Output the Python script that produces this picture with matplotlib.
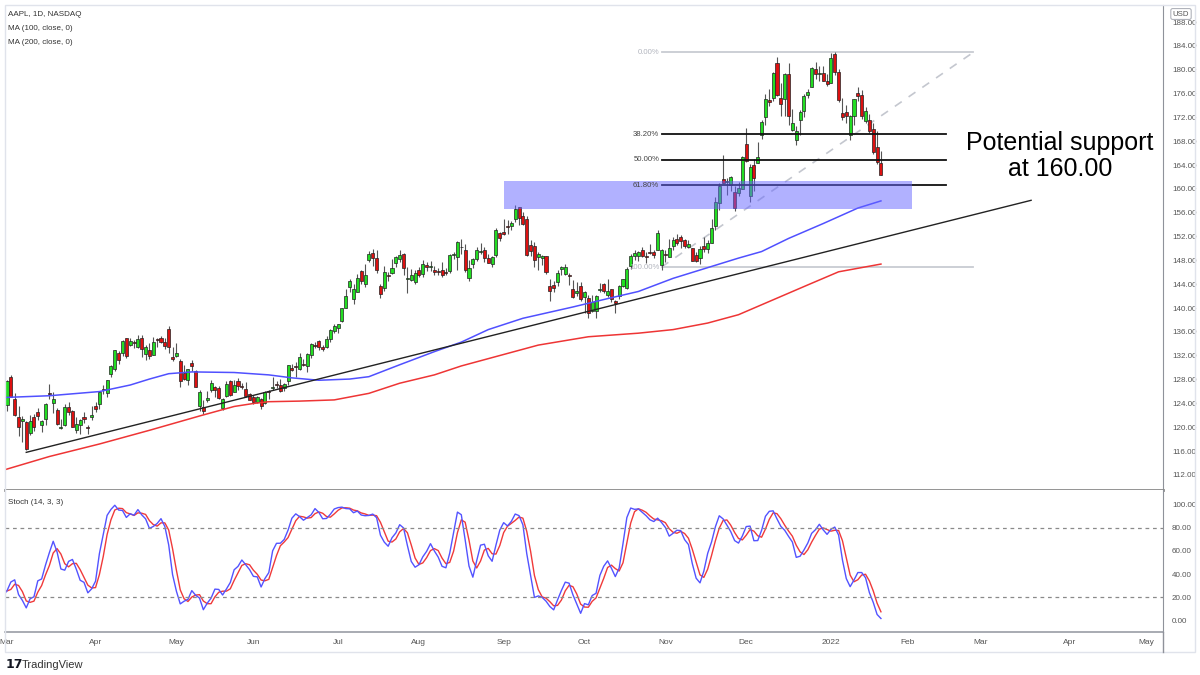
import numpy as np
import pandas as pd
import matplotlib
matplotlib.use("Agg")
import matplotlib.pyplot as plt
from matplotlib.lines import Line2D
from matplotlib.patches import Rectangle

# AAPL daily bars, 1 Feb 2021 .. 21 Jan 2022 (February only feeds the stochastic)
opens = [
    133.75, 135.73, 135.76, 136.30, 137.35, 136.03, 136.62, 136.48, 135.90, 134.35, 135.49, 131.25, 129.20, 130.24, 128.01, 123.76, 124.94, 124.68, 122.59,
    123.75, 128.41, 124.81, 121.75, 120.98, 120.93, 119.03, 121.69, 122.54, 120.40, 121.41, 125.70, 124.05, 122.88, 119.90, 120.33, 123.33, 122.82, 119.54, 120.35, 121.65, 120.11, 121.65,
    123.66, 123.87, 126.50, 125.83, 128.95, 129.80, 132.52, 132.44, 134.94, 133.82, 134.30, 133.51, 135.02, 132.36, 133.04, 132.16, 134.83, 135.01, 134.31, 136.47, 131.78,
    132.04, 131.19, 129.20, 127.89, 130.85, 129.41, 123.50, 123.40, 124.58, 126.25, 126.82, 126.56, 123.16, 125.23, 127.82, 126.01, 127.82, 126.96, 126.44, 125.57,
    125.08, 124.28, 124.68, 124.07, 126.17, 126.60, 127.21, 127.02, 126.53, 127.82, 129.94, 130.37, 129.80, 130.71, 130.30, 132.13, 133.77, 134.45, 133.46, 133.41, 134.80, 136.17,
    136.60, 137.90, 140.07, 143.54, 141.58, 142.75, 146.21, 144.03, 148.10, 149.24, 148.46, 143.75, 143.46, 145.53, 145.94, 147.55, 148.27, 149.12, 144.81, 144.69, 144.38,
    146.36, 145.81, 147.27, 146.98, 146.35, 146.20, 146.44, 146.05, 146.19, 148.97, 148.54, 150.23, 149.80, 145.03, 147.44, 148.31, 149.45, 149.81, 148.35, 147.48, 149.00, 152.66,
    152.83, 153.87, 153.76, 154.97, 156.98, 155.49, 155.00, 150.63, 150.35, 148.56, 148.44, 148.82, 143.80, 143.93, 144.45, 146.65, 145.66, 145.47, 143.25, 142.47, 143.66,
    141.90, 141.76, 139.49, 139.47, 143.06, 144.03, 142.27, 143.23, 141.24, 142.11, 143.77, 143.45, 147.01, 148.70, 148.81, 149.69, 148.68, 149.33, 149.36, 149.82, 147.22,
    148.99, 148.66, 150.39, 151.58, 151.89, 151.41, 150.20, 150.02, 148.96, 148.43, 150.37, 149.94, 151.00, 153.71, 157.65, 161.68, 161.12, 160.75, 159.57, 159.37, 159.99,
    167.48, 158.74, 164.02, 164.29, 169.08, 172.13, 174.91, 175.21, 181.12, 175.25, 175.11, 179.28, 169.93, 168.28, 171.56, 173.04, 175.85, 177.09, 180.16, 179.33, 179.47, 178.09,
    177.83, 182.63, 179.61, 172.70, 172.89, 169.08, 172.32, 176.12, 175.78, 171.34, 171.51, 170.00, 166.98, 164.42,
]
highs = [
    135.38, 136.31, 135.77, 137.40, 137.42, 136.96, 137.88, 136.99, 136.39, 135.53, 136.01, 132.22, 130.00, 130.71, 129.72, 126.71, 125.56, 126.46, 124.85,
    127.93, 128.72, 125.71, 123.60, 121.94, 121.00, 122.06, 122.17, 123.21, 121.17, 124.00, 127.22, 125.86, 123.18, 121.43, 123.87, 124.24, 122.90, 121.66, 121.48, 122.58, 120.40, 123.52,
    124.18, 126.16, 127.13, 127.92, 130.39, 133.04, 132.85, 134.66, 135.00, 135.00, 134.67, 135.47, 135.53, 133.75, 134.15, 135.12, 135.06, 135.41, 135.02, 137.07, 133.56,
    134.07, 131.49, 130.45, 129.75, 131.26, 129.54, 126.27, 124.64, 126.15, 127.89, 126.93, 126.99, 124.92, 127.72, 128.00, 127.94, 128.32, 127.39, 127.64, 125.80,
    125.35, 125.24, 124.85, 126.16, 126.32, 128.46, 127.75, 128.19, 127.44, 130.54, 130.60, 130.89, 132.55, 131.51, 132.41, 134.08, 134.32, 134.64, 133.89, 135.25, 136.49, 137.41,
    137.33, 140.00, 143.15, 144.89, 144.06, 145.65, 146.32, 147.46, 149.57, 150.00, 149.76, 144.07, 147.10, 146.13, 148.20, 148.72, 149.83, 149.21, 146.97, 146.55, 146.33,
    146.95, 148.04, 147.79, 147.84, 147.11, 146.70, 147.71, 146.72, 149.05, 149.44, 151.19, 151.68, 150.72, 148.00, 148.50, 150.19, 150.86, 150.32, 149.12, 148.75, 153.49, 152.80,
    154.98, 154.72, 154.63, 157.26, 157.04, 156.11, 155.48, 151.42, 151.07, 149.44, 148.97, 148.82, 144.84, 144.60, 146.43, 147.08, 147.47, 145.96, 144.75, 144.45, 144.38,
    142.92, 142.21, 142.24, 142.15, 144.22, 144.18, 144.81, 143.25, 141.40, 143.88, 144.90, 146.84, 149.17, 149.75, 149.64, 150.18, 149.37, 150.84, 149.73, 153.17, 149.94,
    149.70, 151.57, 151.97, 152.43, 152.20, 151.57, 151.43, 150.13, 149.43, 150.40, 151.88, 151.49, 155.00, 158.67, 161.02, 165.70, 161.80, 162.14, 160.45, 161.19, 165.52,
    170.30, 164.20, 164.96, 167.88, 171.58, 175.96, 176.75, 179.63, 182.13, 177.74, 179.50, 181.14, 173.47, 170.58, 173.20, 175.86, 176.85, 180.42, 181.33, 180.63, 180.57, 179.23,
    182.88, 182.94, 180.17, 175.30, 174.14, 172.50, 175.18, 177.18, 176.62, 173.78, 172.54, 171.08, 169.68, 166.33,
]
lows = [
    130.93, 134.61, 133.61, 134.59, 135.86, 134.92, 135.85, 134.40, 133.77, 133.69, 132.79, 129.47, 127.41, 128.80, 125.60, 118.39, 122.23, 120.54, 121.20,
    122.79, 125.01, 121.84, 118.62, 117.57, 116.21, 118.79, 119.45, 121.26, 119.16, 120.42, 124.72, 122.34, 120.32, 119.68, 120.26, 122.14, 120.07, 119.00, 118.92, 120.73, 118.86, 121.15,
    122.49, 123.07, 125.65, 125.14, 128.52, 129.47, 130.63, 131.93, 131.66, 133.64, 133.28, 133.34, 131.81, 131.30, 131.41, 132.16, 133.56, 134.11, 133.08, 132.45, 131.07,
    131.83, 126.70, 127.97, 127.13, 129.48, 126.81, 122.77, 122.25, 124.26, 125.85, 125.17, 124.78, 122.86, 125.10, 125.21, 125.94, 126.32, 126.42, 125.08, 124.55,
    123.94, 124.05, 123.13, 123.85, 124.83, 126.21, 126.52, 125.94, 126.10, 127.07, 129.39, 128.46, 129.65, 130.24, 129.21, 131.62, 133.23, 132.93, 132.81, 133.35, 134.35, 135.87,
    135.76, 137.75, 140.07, 142.66, 140.67, 142.65, 144.00, 143.63, 147.68, 147.09, 145.88, 141.67, 142.96, 144.63, 145.81, 146.92, 147.70, 145.55, 142.54, 144.58, 144.11,
    145.25, 145.18, 146.28, 146.17, 145.63, 145.52, 145.30, 145.53, 145.84, 148.27, 146.47, 149.09, 146.15, 144.50, 146.78, 147.89, 149.15, 147.80, 147.51, 146.83, 148.61, 151.29,
    152.34, 152.40, 153.09, 154.39, 153.98, 153.95, 148.70, 148.75, 146.91, 146.37, 147.22, 145.76, 141.27, 142.78, 143.70, 145.64, 145.56, 143.82, 141.69, 142.03, 141.28,
    139.11, 138.27, 139.36, 138.37, 142.72, 142.56, 141.81, 141.04, 139.20, 141.51, 143.51, 143.16, 146.55, 148.12, 147.87, 148.64, 147.62, 149.01, 148.49, 149.72, 146.41,
    147.80, 148.65, 149.82, 150.64, 150.06, 150.16, 150.06, 147.85, 147.68, 147.48, 149.43, 149.34, 150.99, 153.05, 156.53, 161.00, 159.06, 159.64, 156.36, 158.79, 159.92,
    164.53, 157.80, 159.72, 164.28, 168.34, 170.70, 173.92, 174.69, 175.53, 172.21, 172.31, 170.75, 169.69, 167.46, 169.12, 172.15, 175.27, 177.07, 178.53, 178.14, 178.09, 177.26,
    177.71, 179.12, 174.64, 171.64, 171.03, 168.17, 170.82, 174.82, 171.79, 171.09, 169.41, 165.94, 164.18, 162.30,
]
closes = [
    134.14, 134.99, 133.94, 137.39, 136.76, 136.91, 136.01, 135.39, 135.13, 135.37, 133.19, 130.84, 129.71, 129.87, 126.00, 125.86, 125.35, 120.99, 121.26,
    127.79, 125.12, 122.06, 120.13, 121.42, 116.36, 121.09, 119.98, 121.96, 121.03, 123.99, 125.57, 124.76, 120.53, 119.99, 123.39, 122.54, 120.09, 120.59, 121.21, 121.39, 119.90, 122.15,
    123.00, 125.90, 126.21, 127.90, 130.36, 133.00, 131.24, 134.43, 132.03, 134.50, 134.16, 134.84, 133.11, 133.50, 131.94, 134.32, 134.72, 134.39, 133.58, 133.48, 131.46,
    132.54, 127.85, 128.10, 129.74, 130.21, 126.85, 125.91, 122.77, 124.97, 127.45, 126.27, 124.85, 124.69, 127.31, 125.43, 127.10, 126.90, 126.85, 125.28, 124.61,
    124.28, 125.06, 123.54, 125.89, 125.90, 126.74, 127.13, 126.11, 127.35, 130.48, 129.64, 130.15, 131.79, 130.46, 132.30, 133.98, 133.70, 133.41, 133.11, 134.78, 136.33, 136.96,
    137.27, 139.96, 142.02, 144.57, 143.24, 145.11, 144.50, 145.64, 149.15, 148.48, 146.39, 142.45, 146.15, 145.40, 146.80, 148.56, 148.99, 146.77, 144.98, 145.64, 145.86,
    145.52, 147.36, 146.95, 147.06, 146.14, 146.09, 145.60, 145.86, 148.89, 149.10, 151.12, 150.19, 146.36, 146.70, 148.19, 149.71, 149.62, 148.36, 147.54, 148.60, 153.12, 151.83,
    152.51, 153.65, 154.30, 156.69, 155.11, 154.07, 148.97, 149.55, 148.12, 149.03, 148.79, 146.06, 142.94, 143.43, 145.85, 146.83, 146.92, 145.37, 141.91, 142.83, 141.50,
    142.65, 139.14, 141.11, 142.00, 143.29, 142.90, 142.81, 141.51, 140.91, 143.76, 144.84, 146.55, 148.76, 149.26, 149.48, 148.69, 148.64, 149.32, 148.85, 152.57, 149.80,
    148.96, 150.02, 151.49, 150.96, 151.28, 150.44, 150.81, 147.92, 147.87, 149.99, 150.00, 151.00, 153.49, 157.87, 160.55, 161.02, 161.41, 161.94, 156.81, 160.24, 165.30,
    164.77, 163.76, 161.84, 165.32, 171.18, 175.08, 174.56, 179.45, 175.74, 174.33, 179.30, 172.26, 171.14, 169.75, 172.99, 175.64, 176.28, 180.33, 179.29, 179.38, 178.20, 177.57,
    182.01, 179.70, 174.92, 172.00, 172.17, 172.19, 175.08, 175.53, 172.19, 173.07, 169.80, 166.23, 164.51, 162.41,
]
holidays = ["2021-02-15", "2021-04-02", "2021-05-31", "2021-07-05", "2021-09-06",
            "2021-11-25", "2021-12-24", "2022-01-17", "2022-02-21", "2022-04-15",
            "2022-05-30"]

# moving averages, bars counted from 1 Mar 2021
ma100_bars = [-1, 11, 24, 32, 37, 42, 48, 59, 68, 74, 81, 89, 94, 102, 111, 118,
              125, 134, 147, 156, 164, 173, 182, 190, 196, 203, 212, 221, 227]
ma100 = [125.0, 125.3, 126.0, 127.1, 128.1, 129.0, 129.3, 129.2, 128.8, 128.3,
         127.9, 128.1, 128.5, 130.5, 132.7, 134.3, 136.4, 138.3, 140.2, 141.6,
         142.8, 145.0, 146.8, 148.4, 149.5, 151.7, 154.2, 156.8, 158.0]
ma200_bars = [-1, 11, 24, 37, 50, 59, 64, 68, 76, 85, 94, 102, 111, 118, 134, 138,
              151, 164, 173, 182, 190, 199, 208, 216, 227]
ma200 = [112.8, 115.1, 117.2, 119.5, 121.9, 123.5, 124.0, 124.3, 124.4, 124.6,
         125.7, 127.4, 128.8, 130.3, 133.1, 133.8, 135.2, 135.8, 136.4, 137.5,
         138.9, 141.4, 143.9, 146.1, 147.4]

# drawings (bars counted from 1 Mar 2021)
trend_bars = [5, 266]
trend_prices = [115.8, 158.1]
fib_bars = [170, 251]
fib_short_end = 244
fib_low, fib_high = 146.9, 182.94
fib_levels = [0.0, 0.382, 0.5, 0.618, 1.0]
fib_labels = ["0.00%", "38.20%", "50.00%", "61.80%", "100.00%"]
zone_bars = [129, 235]
zone_prices = [156.64, 161.34]

SMALL = "Liberation Sans"
W, H = 1200, 675
def fx(x): return x / W
def fy(y): return 1 - y / H

n = len(closes)
days = pd.bdate_range("2021-02-01", "2022-06-30")
days = days[~days.isin(pd.to_datetime(holidays))]
start = 19  # index of 1 Mar 2021
x = np.arange(n)
o, h, l, c = map(np.array, (opens, highs, lows, closes))

df = pd.DataFrame({"h": h, "l": l, "c": c})
ll = df.l.rolling(14).min()
hh = df.h.rolling(14).max()
fast = 100 * (df.c - ll) / (hh - ll)
k = fast.rolling(3).mean()
d = k.rolling(3).mean()

fig = plt.figure(figsize=(12, 6.75), dpi=100)
ax = fig.add_axes([fx(5), fy(490), fx(1158), 485 / H])
ax2 = fig.add_axes([fx(5), fy(632), fx(1158), 142 / H], sharex=ax)

xl = (start - 2 / 3.85, start + 1156 / 3.85)

# candles
up = c >= o
cols = np.where(up, "#22dd22", "#dd1111")
ax.vlines(x, l, h, color="#555555", lw=0.8, zorder=2)
ax.bar(x, np.maximum(np.abs(c - o), 0.15), bottom=np.minimum(o, c), width=0.78,
       color=cols, edgecolor="#222222", linewidth=0.5, zorder=3)

ax.plot(start + np.array(ma100_bars), ma100, color="#5050ff", lw=1.1, zorder=4)
ax.plot(start + np.array(ma200_bars), ma200, color="#ee3535", lw=1.1, zorder=4)
ax.plot(start + np.array(trend_bars), trend_prices, color="#222222", lw=1.0, zorder=4)

# fib retracement
f0, f1 = start + fib_bars[0], start + fib_bars[1]
ax.plot([f0, f1], [fib_low, fib_high], color="#c4c7cf", lw=1.2, ls=(0, (5, 5)), zorder=1)
for lev, lab in zip(fib_levels, fib_labels):
    p = fib_high - lev * (fib_high - fib_low)
    if lev in (0.0, 1.0):
        ax.plot([f0, f1], [p, p], color="#c8cbd2", lw=1.3, zorder=1)
        tc = "#b2b5be"
    else:
        ax.plot([f0, start + fib_short_end], [p, p], color="#111111", lw=1.3, zorder=4)
        tc = "#444444"
    ax.text(f0 - 0.6, p, lab, ha="right", va="center", fontsize=5.6, color=tc,
            family=SMALL, zorder=6)

ax.add_patch(Rectangle((start + zone_bars[0], zone_prices[0]), zone_bars[1] - zone_bars[0],
                       zone_prices[1] - zone_prices[0], facecolor="#6464ff", alpha=0.5,
                       lw=0, zorder=5))

ax.set_xlim(*xl)
ax.set_ylim(109.48, 190.88)
ax.set_yticks(np.arange(112, 189, 4))
ax.set_yticklabels([f"{v:.2f}" for v in np.arange(112, 189, 4)])

# stochastic
ax2.plot(x, d, color="#f03a3a", lw=1.0)
ax2.plot(x, k, color="#5353ff", lw=1.0)
for lv in (80, 20):
    ax2.axhline(lv, color="#8a8a8a", lw=0.9, ls=(0, (3, 3)))
ax2.set_ylim(-10.4, 113)
ax2.set_yticks([0, 20, 40, 60, 80, 100])
ax2.set_yticklabels([f"{v:.2f}" for v in [0, 20, 40, 60, 80, 100]])

# month labels
ds = pd.Series(days[:340])
first = ds.groupby([ds.dt.year, ds.dt.month]).head(1)
ticks, labs = [], []
for i, dt in first.items():
    if start <= i <= xl[1]:
        ticks.append(i)
        labs.append(str(dt.year) if dt.month == 1 else dt.strftime("%b"))
ax2.set_xticks(ticks)
ax2.set_xticklabels(labs)

for a in (ax, ax2):
    a.yaxis.tick_right()
    a.tick_params(axis="y", length=0, pad=6.5, labelsize=5.8, labelcolor="#555555")
    for t in a.get_yticklabels():
        t.set_family(SMALL)
    a.spines["top"].set_visible(False)
    a.spines["left"].set_visible(False)
    a.spines["right"].set_color("#8f929a")
    a.set_facecolor("white")
ax.tick_params(axis="x", length=0, labelbottom=False)
ax.spines["bottom"].set_color("#8a8a8a")
ax.spines["bottom"].set_linewidth(2)
ax2.spines["bottom"].set_color("#9a9da5")
ax2.spines["bottom"].set_linewidth(1.2)
ax2.tick_params(axis="x", length=0, pad=5, labelsize=6, labelcolor="#555555")
for t in ax2.get_xticklabels():
    t.set_family(SMALL)

# frame and separators
fig.add_artist(Rectangle((fx(5), fy(652)), fx(1190), 647 / H, fill=False,
                         edgecolor="#e0e3eb", lw=1, transform=fig.transFigure))
fig.add_artist(Line2D([fx(1163), fx(1163)], [fy(632), fy(652)], color="#8f929a", lw=1))

# texts
for i, t in enumerate(["AAPL, 1D, NASDAQ", "MA (100, close, 0)", "MA (200, close, 0)"]):
    fig.text(fx(8), fy(14 + 14 * i), t, fontsize=5.8, color="#333333", va="center", family=SMALL)
fig.text(fx(8), fy(502), "Stoch (14, 3, 3)", fontsize=5.8, color="#333333", va="center",
         family=SMALL)
fig.text(fx(1181), fy(14), "USD", fontsize=5.6, color="#555555", ha="center", va="center",
         family=SMALL, bbox=dict(boxstyle="round,pad=0.25", fc="white", ec="#b0b3bb", lw=0.8))
fig.text(fx(1060), fy(143), "Potential support", fontsize=18, family="Liberation Sans",
         ha="center", va="center", color="black")
fig.text(fx(1060), fy(169), "at 160.00", fontsize=18, family="Liberation Sans",
         ha="center", va="center", color="black")
fig.text(fx(6), fy(665), "17", fontsize=9, fontweight="bold", color="#131722", va="center")
fig.text(fx(22), fy(665), "TradingView", fontsize=8, color="#333333", va="center",
         family=SMALL)

fig.savefig("out.png", dpi=100, facecolor="white")
